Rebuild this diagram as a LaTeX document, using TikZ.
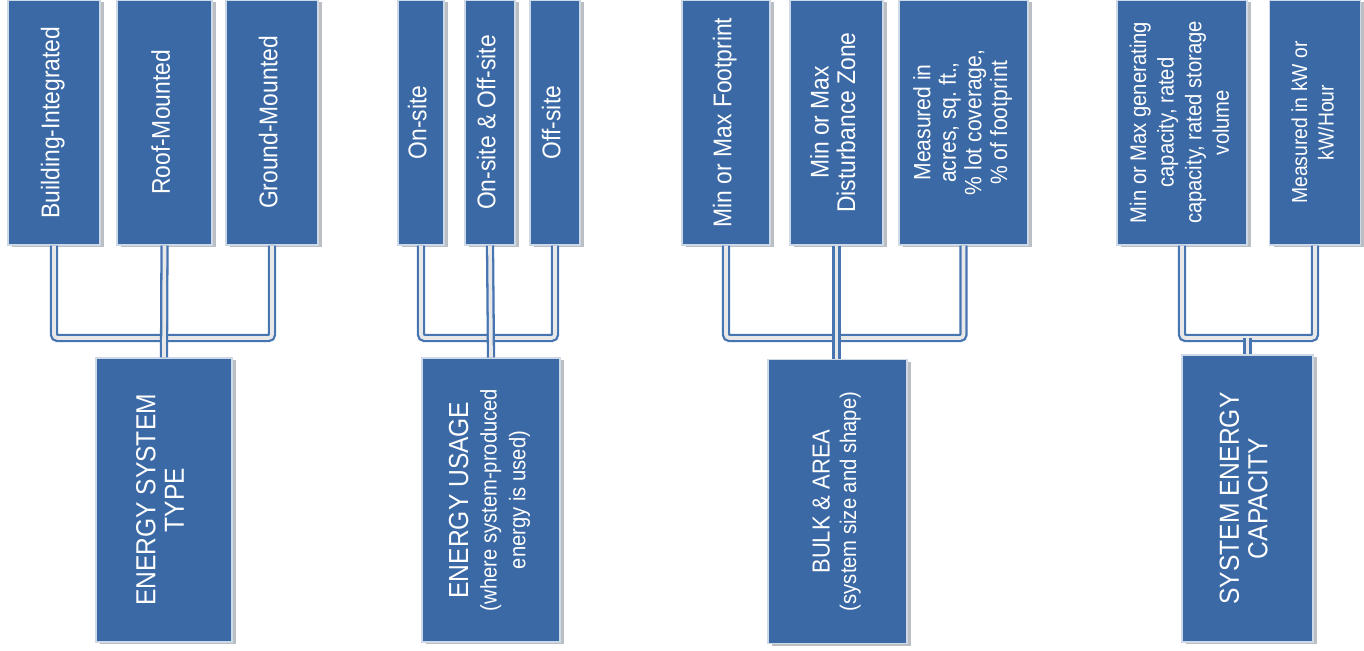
\documentclass[tikz,border=0pt]{standalone}
\usepackage{fontspec}
\setmainfont{Liberation Sans}
\usepackage{graphicx}
\usetikzlibrary{shadows}
\definecolor{boxblue}{HTML}{3B69A5}
\definecolor{wireblue}{HTML}{4675B2}
\definecolor{shadowgray}{HTML}{B4B8BE}
\newcommand{\vtext}[1]{\rotatebox{90}{\scalebox{1}[1.12]{\begin{tabular}{@{}c@{}}#1\end{tabular}}}}
\newcommand{\subline}[1]{{\fontsize{11.5}{12.5}\selectfont #1}}
\frenchspacing

\begin{document}
\begin{tikzpicture}[
  leaf/.style={draw=white!75!boxblue,line width=0.6pt,fill=boxblue,text=white,
    minimum height=4.9cm,inner sep=0pt,
    drop shadow={shadow xshift=2.4pt,shadow yshift=-1.2pt,fill=shadowgray,opacity=0.9},
    font=\fontsize{13}{13.5}\selectfont},
  head/.style={leaf,minimum height=5.68cm,font=\fontsize{14}{14.5}\selectfont},
  wire/.style={draw=wireblue,line width=1.3pt,double=gray!18,double distance=2.1pt,
    rounded corners=2pt}]
\useasboundingbox (0,0) rectangle (27.28,-13.02);
\coordinate (bus) at (0,-6.76);
% energy system type
\node[leaf,minimum width=1.84cm] (bi) at (1.08,-2.45) {\vtext{Building-Integrated}};
\node[leaf,minimum width=1.9cm] (rm) at (3.29,-2.45) {\vtext{Roof-Mounted}};
\node[leaf,minimum width=1.84cm] (gm) at (5.44,-2.45) {\vtext{Ground-Mounted}};
\node[head,minimum width=2.72cm] (est) at (3.28,-10.0) {\vtext{ENERGY SYSTEM\\TYPE}};
\draw[wire] (bi.south) -- (bi.south |- bus) -- (gm.south |- bus) -- (gm.south);
\draw[wire] (rm.south) -- (est.north);
% energy usage
\node[leaf,minimum width=0.92cm] (ons) at (8.42,-2.45) {\vtext{On-site}};
\node[leaf,minimum width=1.0cm] (both) at (9.8,-2.45) {\vtext{On-site \& Off-site}};
\node[leaf,minimum width=1.0cm] (offs) at (11.1,-2.45) {\vtext{Off-site}};
\node[head,minimum width=2.76cm] (eu) at (9.82,-10.0)
  {\vtext{ENERGY USAGE\\\subline{(where system-produced}\\\subline{energy is used)}}};
\draw[wire] (ons.south) -- (ons.south |- bus) -- (offs.south |- bus) -- (offs.south);
\draw[wire] (both.south) -- (eu.north);
% bulk and area
\node[leaf,minimum width=1.76cm] (fp) at (14.52,-2.45) {\vtext{Min or Max Footprint}};
\node[leaf,minimum width=1.86cm] (dz) at (16.73,-2.45) {\vtext{Min or Max\\Disturbance Zone}};
\node[leaf,minimum width=2.58cm,font=\fontsize{12}{13}\selectfont] (ms) at (19.27,-2.45)
  {\vtext{Measured in\\acres, sq.\ ft.,\\\% lot coverage,\\\% of footprint}};
\node[head,minimum width=2.78cm,font=\fontsize{12.5}{13.5}\selectfont] (ba) at (16.75,-10.03)
  {\vtext{BULK \& AREA\\\subline{(system size and shape)}}};
\draw[wire] (fp.south) -- (fp.south |- bus) -- (ms.south |- bus) -- (ms.south);
\draw[wire] (dz.south) -- (dz.south |- ba.north);
% system energy capacity
\node[leaf,minimum width=2.6cm,font=\fontsize{11.5}{14}\selectfont] (gc) at (23.64,-2.45)
  {\vtext{Min or Max generating\\capacity, rated\\capacity, rated storage\\volume}};
\node[leaf,minimum width=1.82cm,font=\fontsize{11}{13.5}\selectfont] (kw) at (26.3,-2.45)
  {\vtext{Measured in kW or\\kW/Hour}};
\node[head,minimum width=2.62cm,minimum height=5.74cm] (sec) at (24.95,-9.97)
  {\vtext{SYSTEM ENERGY\\CAPACITY}};
\draw[wire] (gc.south) -- (gc.south |- bus) -- (kw.south |- bus) -- (kw.south);
\draw[wire] (sec.north) -- (sec.north |- bus);
\end{tikzpicture}
\end{document}
